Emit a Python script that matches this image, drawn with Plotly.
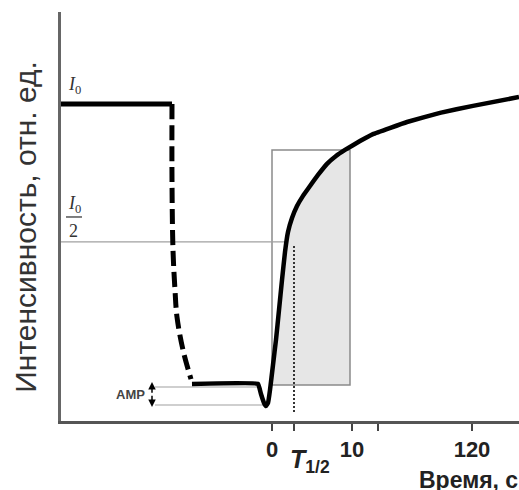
import numpy as np
import plotly.graph_objects as go

# ---- data (schematic units: time position u, intensity v with I0 = 1) ----
plateau_u = [-26.375, -12.5]
plateau_v = [1.0, 1.0]

drop_u = [-12.5, -12.5, -12.375, -12.125, -11.875, -11.125, -10.125]
drop_v = [1.0, 0.760, 0.539, 0.413, 0.328, 0.224, 0.132]

recov_u = [-10.0, -1.75, -1.375, -1.0, -0.75, -0.5, -0.25, 0.125, 0.5, 0.875,
           1.25, 1.625, 2.0, 2.5, 3.125, 3.875, 4.75, 5.75, 6.875, 8.0,
           9.125, 11.0, 12.625, 16.875, 21.0, 25.125, 30.875]
recov_v = [0.117, 0.117, 0.085, 0.057, 0.047, 0.057, 0.098, 0.177, 0.256, 0.350,
           0.445, 0.533, 0.596, 0.640, 0.678, 0.710, 0.741, 0.776, 0.811, 0.836,
           0.855, 0.883, 0.905, 0.943, 0.972, 0.994, 1.022]

half_level = 0.5647
t_half = 2.75
box_left, box_right = 0.0, 9.75
box_bottom, box_top = 0.1136, 0.855
amp_upper, amp_lower = 0.1073, 0.0505

tick_vals = [0, t_half, 10, 13.25, 25]
tick_text = ["0", "", "10", "", "120"]

x_range = [-26.375, 30.875]
y_range = [0, 1.290]

# ---- derived ----
ru = np.array(recov_u)
rv = np.array(recov_v)
rise = ru >= -0.5
u_rise, v_rise = ru[rise], rv[rise]
u_fill_start = float(np.interp(box_bottom, v_rise, u_rise))
u_half = float(np.interp(half_level, v_rise, u_rise))
v_box_right = float(np.interp(box_right, u_rise, v_rise))
inner = (u_rise > u_fill_start) & (u_rise < box_right)
fill_u = [u_fill_start] + list(u_rise[inner]) + [box_right, box_right, u_fill_start]
fill_v = [box_bottom] + list(v_rise[inner]) + [v_box_right, box_bottom, box_bottom]

fig = go.Figure()

fig.add_trace(go.Scatter(x=fill_u, y=fill_v, fill="toself", fillcolor="#e6e6e6",
                         line=dict(width=0), mode="lines", hoverinfo="skip"))
fig.add_trace(go.Scatter(x=[box_left, box_right, box_right, box_left, box_left],
                         y=[box_bottom, box_bottom, box_top, box_top, box_bottom],
                         mode="lines", line=dict(color="#8a8a8a", width=1.5)))
# I0/2 level
fig.add_trace(go.Scatter(x=[x_range[0], u_half], y=[half_level, half_level], mode="lines",
                         line=dict(color="#a0a0a0", width=1.2)))
# T1/2 dotted
fig.add_trace(go.Scatter(x=[t_half, t_half], y=[half_level - 0.013, 0.028], mode="lines",
                         line=dict(color="#333", width=2, dash="2px,2px")))
# AMP lines
fig.add_trace(go.Scatter(x=[-14.625, -1.75], y=[amp_upper, amp_upper], mode="lines",
                         line=dict(color="#a0a0a0", width=1.2)))
fig.add_trace(go.Scatter(x=[-14.625, -0.75], y=[amp_lower, amp_lower], mode="lines",
                         line=dict(color="#a0a0a0", width=1.2)))

fig.add_trace(go.Scatter(x=plateau_u, y=plateau_v, mode="lines",
                         line=dict(color="black", width=5)))
fig.add_trace(go.Scatter(x=drop_u, y=drop_v, mode="lines",
                         line=dict(color="black", width=5, dash="15px,6px", shape="spline")))
fig.add_trace(go.Scatter(x=recov_u, y=recov_v, mode="lines",
                         line=dict(color="black", width=4.5, shape="spline", smoothing=0.25)))

ann = []
# Y title
ann.append(dict(text="Интенсивность, отн. ед.", xref="paper", yref="paper",
                x=-0.0764, y=0.475, xanchor="center", yanchor="middle",
                showarrow=False, textangle=-90,
                font=dict(family="Liberation Sans", size=30, color="#333")))
# I0 labels
serif = dict(family="Liberation Serif", size=18, color="#333")
ann.append(dict(text="<i>I</i><sub>0</sub>", x=-25.75, y=1.057, xanchor="left",
                showarrow=False, font=serif))
ann.append(dict(text="<i>I</i><sub>0</sub>", x=-25.75, y=0.684, xanchor="left",
                showarrow=False, font=serif))
ann.append(dict(text="2", x=-24.8, y=0.599, xanchor="center",
                showarrow=False, font=serif))
# AMP
ann.append(dict(text="<b>AMP</b>", x=-15.6, y=0.085, xanchor="right", showarrow=False,
                font=dict(family="Liberation Sans", size=13, color="#444")))
for yy in (0.123, 0.044):
    ann.append(dict(x=-15, y=yy, ax=-15, ay=0.084, axref="x", ayref="y",
                    showarrow=True, arrowhead=2, arrowsize=1, arrowwidth=1.5,
                    arrowcolor="black", text=""))
# T1/2
ann.append(dict(text="<b><i>T</i><sub>1/2</sub></b>", x=2.0, xanchor="left",
                yref="paper", y=-0.098, yanchor="middle", showarrow=False,
                font=dict(family="Liberation Sans", size=25, color="#222")))
# x title
ann.append(dict(text="<b>Время, с</b>", x=18.125, xanchor="left",
                yref="paper", y=-0.144, yanchor="middle", showarrow=False,
                font=dict(family="Liberation Sans", size=23, color="#222")))

fig.update_layout(
    width=519, height=490,
    margin=dict(l=61, r=0, t=12, b=69),
    paper_bgcolor="white", plot_bgcolor="white",
    showlegend=False,
    annotations=ann,
    shapes=[dict(type="line", x0=-25.75, x1=-23.75, y0=0.6435, y1=0.6435,
                 line=dict(color="#555", width=1.5))],
    xaxis=dict(range=x_range, showgrid=False, zeroline=False, showline=True,
               linecolor="#555", linewidth=2.5, ticks="outside", ticklen=7,
               tickwidth=2, tickcolor="#444", tickvals=tick_vals, ticktext=tick_text,
               tickfont=dict(family="Liberation Sans", size=22, color="#222", weight="bold")),
    yaxis=dict(range=y_range, showgrid=False, zeroline=False, showline=True,
               linecolor="#666", linewidth=2.5, showticklabels=False, ticks=""),
)

fig.write_html("out.html", config={"displayModeBar": False},
               post_script="document.body.style.margin='0';document.body.style.overflow='hidden';")
